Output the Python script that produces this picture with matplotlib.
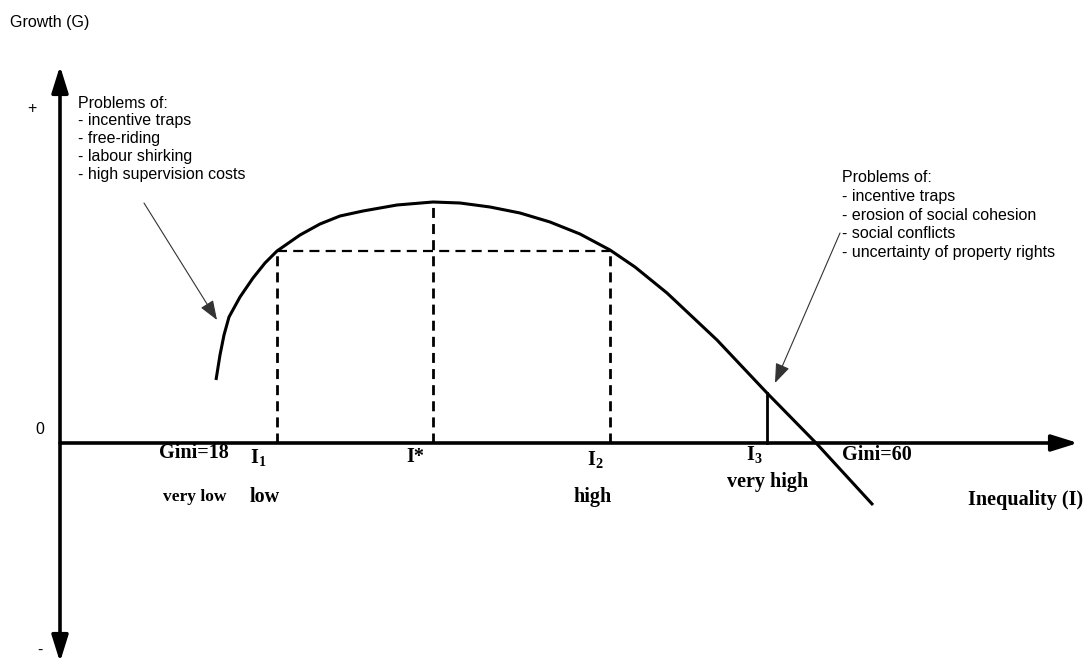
import matplotlib
matplotlib.use("Agg")
import matplotlib.pyplot as plt
from matplotlib.patches import FancyArrowPatch

plt.rcParams['mathtext.fontset'] = 'custom'
plt.rcParams['mathtext.rm'] = 'Liberation Serif:bold'

# ---------------- data (schematic units: inequality -> right, growth -> up) ----
curve_ineq = [156, 160, 164, 169, 180, 193, 205, 217, 240, 260, 280, 303, 337,
              373, 400, 430, 460, 490, 520, 550, 575, 607, 657, 707, 757, 813]
curve_growth = [63, 88, 108, 126, 146, 165, 180, 192, 208, 219, 227, 232, 238,
                241, 240, 236, 230, 221, 209, 193, 176, 150, 103, 50, -1, -62]

i_low, i_star, i_high, i_vhigh = 217, 373, 550, 707
g_low, g_star, g_vhigh = 192, 241, 50

left_problems = ["Problems of:", "- incentive traps", "- free-riding",
                 "- labour shirking", "- high supervision costs"]
right_problems = ["Problems of:", "- incentive traps", "- erosion of social cohesion",
                  "- social conflicts", "- uncertainty of property rights"]

# ---------------- figure -----------------
fig = plt.figure(figsize=(10.92, 6.62), dpi=100)
ax = fig.add_axes([0, 0, 1, 1])
ax.set_xlim(-60, 1032)
ax.set_ylim(-219, 443)
ax.axis('off')

sans = 'Liberation Sans'
serif = 'Liberation Serif'
fs = 11.5

# axes arrows
ax.add_patch(FancyArrowPatch((0, -219), (0, 377), arrowstyle='<|-|>,head_length=16,head_width=5',
                             mutation_scale=1, lw=2.6, color='black', shrinkA=0, shrinkB=0))
ax.add_patch(FancyArrowPatch((0, 0), (1018, 0), arrowstyle='-|>,head_length=16,head_width=5',
                             mutation_scale=1, lw=2.6, color='black', shrinkA=0, shrinkB=0))

# growth curve
ax.plot(curve_ineq, curve_growth, color='black', lw=2.2, solid_joinstyle='round',
        solid_capstyle='butt')

# dashed guides
dash = dict(color='black', lw=2.0, dashes=(3.6, 2.2))
ax.plot([i_low, i_low], [0, g_low], **dash)
ax.plot([i_star, i_star], [0, g_star], **dash)
ax.plot([i_high, i_high], [0, g_low], **dash)
ax.plot([i_low, i_high], [g_low, g_low], color='black', lw=1.6, dashes=(4.5, 2.8))
ax.plot([i_vhigh, i_vhigh], [0, g_vhigh], color='black', lw=2.0)

# annotation arrows
for tail, tip in [((84, 240), (157, 123)), ((780, 210), (715, 60))]:
    ax.add_patch(FancyArrowPatch(tail, tip, arrowstyle='-|>,head_length=12,head_width=4.5',
                                 mutation_scale=1, lw=0.8, color='#333333',
                                 shrinkA=0, shrinkB=0))

# y-axis texts
ax.text(-50, 421, "Growth (G)", family=sans, fontsize=fs, va='center', ha='left')
ax.text(-33, 335, "+", family=sans, fontsize=fs, va='center', ha='left')
ax.text(-25, 13, "0", family=sans, fontsize=fs, va='center', ha='left')
ax.text(-23, -207, "-", family=sans, fontsize=fs, va='center', ha='left')

# problem lists
for k, line in enumerate(left_problems):
    ax.text(18, 340 - k * 18.0, line, family=sans, fontsize=fs, va='center', ha='left')
for k, line in enumerate(right_problems):
    ax.text(782, 265 - k * 18.5, line, family=sans, fontsize=fs, va='center', ha='left')

# x-axis labels
bold = dict(family=serif, fontweight='bold', fontsize=14.5, va='center', ha='left')
ax.text(99, -10, "Gini=18", **bold)
ax.text(190, -15, r"I$_{1}$", **bold)
ax.text(346, -14, "I*", **bold)
ax.text(527, -17, r"I$_{2}$", **bold)
ax.text(686, -12, r"I$_{3}$", **bold)
ax.text(782, -12, "Gini=60", **bold)
ax.text(103, -54, "very low", family=serif, fontweight='bold', fontsize=12.5,
        va='center', ha='left')
ax.text(190, -54, "low", **bold)
ax.text(513, -54, "high", **bold)
ax.text(667, -39, "very high", **bold)
ax.text(908, -57, "Inequality (I)", **bold)

fig.savefig("out.png", dpi=100)
